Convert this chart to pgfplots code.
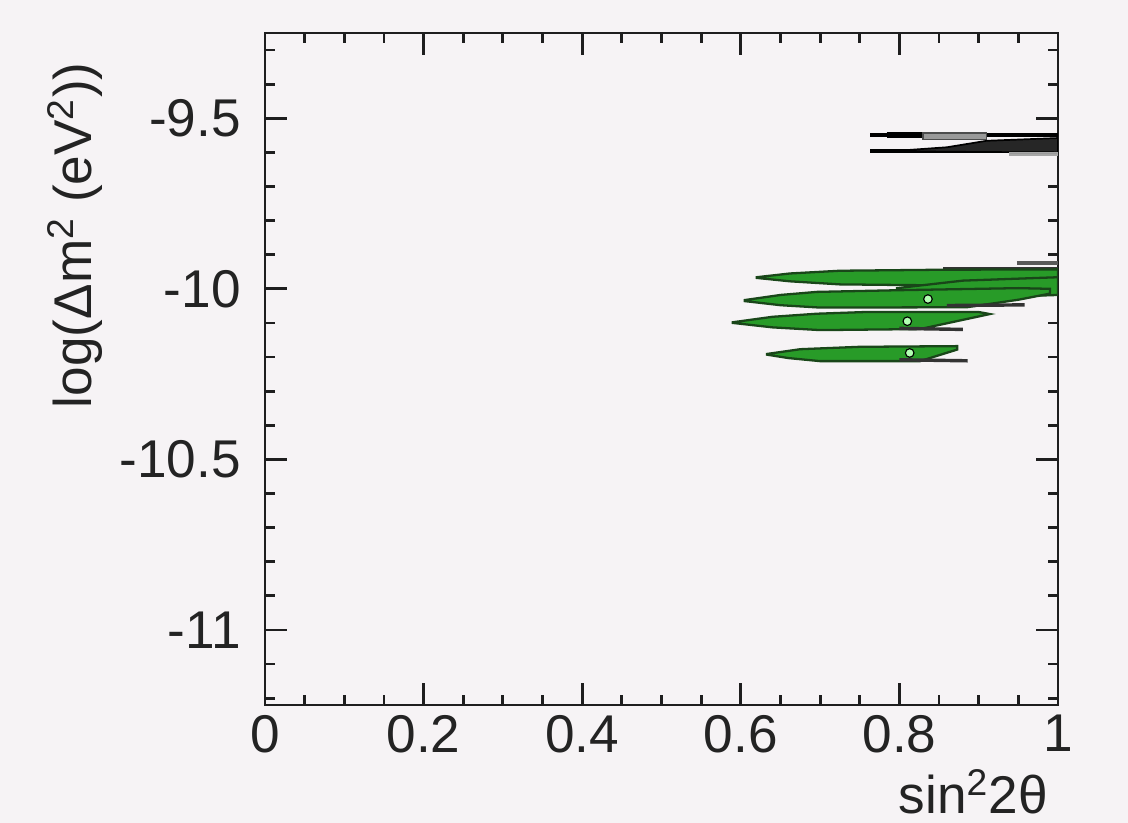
\documentclass[border=0pt]{standalone}
\usepackage{pgfplots}
\pgfplotsset{compat=1.18}
\usepackage{fontspec}
\setmainfont{Liberation Sans}
\definecolor{bg}{RGB}{246,243,245}
\definecolor{gfill}{RGB}{40,155,40}
\definecolor{gline}{RGB}{25,70,25}
\definecolor{axc}{RGB}{30,30,30}
\definecolor{txt}{RGB}{35,35,35}
\begin{document}
\begin{tikzpicture}
\useasboundingbox (-92.75pt,-41.3pt) rectangle (302.05pt,246.75pt);
\fill[bg] (-92.75pt,-41.3pt) rectangle (302.05pt,246.75pt);
\begin{axis}[
  at={(0pt,0pt)}, anchor=south west,
  scale only axis, width=277.55pt, height=235.2pt,
  xmin=0, xmax=1, ymin=-11.22, ymax=-9.25,
  axis line style={axc, line width=1pt},
  every tick/.style={axc, line width=1pt},
  major tick length=7.7pt, minor tick length=3.5pt,
  xtick={0,0.2,0.4,0.6,0.8,1},
  xticklabels={0,0.2,0.4,0.6,0.8,1},
  minor xtick={0.05,0.1,0.15,0.25,0.3,0.35,0.45,0.5,0.55,0.65,0.7,0.75,0.85,0.9,0.95},
  ytick={-11,-10.5,-10,-9.5},
  yticklabels={-11,-10.5,-10,-9.5},
  minor ytick={-11.2,-11.1,-10.9,-10.8,-10.7,-10.6,-10.4,-10.3,-10.2,-10.1,-9.9,-9.8,-9.7,-9.6,-9.4,-9.3},
  tick label style={font=\fontsize{18.6}{22}\selectfont, text=txt},
  yticklabel style={xshift=-5pt},
  label style={font=\fontsize{18.6}{22}\selectfont, text=txt},
  xlabel={sin\textsuperscript{2}2θ},
  xlabel style={at={(axis description cs:1,0)}, anchor=north east, yshift=-19pt},
  ylabel={log(Δm\textsuperscript{2} (eV\textsuperscript{2}))},
  ylabel style={at={(axis description cs:-0.2396,0.971)}, anchor=east, rotate=0},
]
% black contours near -9.55 / -9.6
\addplot[black, line width=1.2pt] coordinates {(0.763,-9.549) (1.0,-9.549)};
\addplot[black, line width=2pt] coordinates {(0.784,-9.549) (0.864,-9.549)};
\addplot[fill=gray!80, draw=gray!60!black, line width=0.5pt] coordinates {(0.830,-9.543) (0.910,-9.543) (0.910,-9.562) (0.830,-9.562)} -- cycle;
\addplot[black, line width=1.2pt] coordinates {(0.763,-9.596) (1.0,-9.596)};
\addplot[fill=black!85, draw=black, line width=0.6pt] coordinates {(0.805,-9.594) (0.86,-9.585) (0.91,-9.566) (1.0,-9.558) (1.0,-9.600) (0.91,-9.599) (0.86,-9.598) (0.805,-9.597)} -- cycle;
\addplot[fill=gray!80, draw=gray!70, line width=0.5pt] coordinates {(0.939,-9.600) (1.0,-9.600) (1.0,-9.608) (0.939,-9.608)} -- cycle;
% thin lines above green region
\addplot[gray!70!black, line width=1.2pt] coordinates {(0.948,-9.924) (1.0,-9.924)};
\addplot[black!80, line width=1.2pt] coordinates {(0.855,-9.942) (1.0,-9.942)};
% green contours
\addplot[fill=gfill, draw=gline, line width=0.8pt] coordinates {(0.620,-9.966) (0.662,-9.955) (0.725,-9.947) (0.855,-9.944) (1.0,-9.943) (1.0,-9.992) (0.855,-9.990) (0.725,-9.987) (0.662,-9.978) (0.620,-9.968)} -- cycle;
\addplot[fill=gfill, draw=gline, line width=0.8pt] coordinates {(0.797,-9.998) (0.88,-9.976) (1.0,-9.966) (1.0,-10.018) (0.95,-10.022) (0.88,-10.017) (0.797,-10.003)} -- cycle;
\addplot[fill=gfill, draw=gline, line width=0.8pt] coordinates {(0.605,-10.033) (0.65,-10.018) (0.696,-10.009) (0.80,-10.004) (0.95,-9.998) (0.99,-10.000) (0.99,-10.014) (0.95,-10.032) (0.885,-10.054) (0.70,-10.055) (0.65,-10.048) (0.605,-10.036)} -- cycle;
\addplot[black!80, line width=1.2pt] coordinates {(0.860,-10.049) (0.958,-10.047)};
\addplot[fill=gfill, draw=gline, line width=0.8pt] coordinates {(0.590,-10.098) (0.64,-10.082) (0.696,-10.073) (0.757,-10.068) (0.90,-10.068) (0.914,-10.074) (0.826,-10.118) (0.70,-10.121) (0.64,-10.113) (0.590,-10.100)} -- cycle;
\addplot[black!80, line width=1.2pt] coordinates {(0.80,-10.116) (0.880,-10.119)};
\addplot[fill=gfill, draw=gline, line width=0.8pt] coordinates {(0.633,-10.191) (0.675,-10.177) (0.75,-10.170) (0.873,-10.168) (0.873,-10.178) (0.826,-10.212) (0.70,-10.212) (0.66,-10.203) (0.633,-10.193)} -- cycle;
\addplot[black!80, line width=1.2pt] coordinates {(0.80,-10.208) (0.886,-10.211)};
% best-fit points
\addplot[only marks, mark=*, mark size=1.5pt, mark options={fill=green!30!white, draw=none}] coordinates {(0.836,-10.030) (0.810,-10.095) (0.813,-10.188)};
\end{axis}
\end{tikzpicture}
\end{document}
